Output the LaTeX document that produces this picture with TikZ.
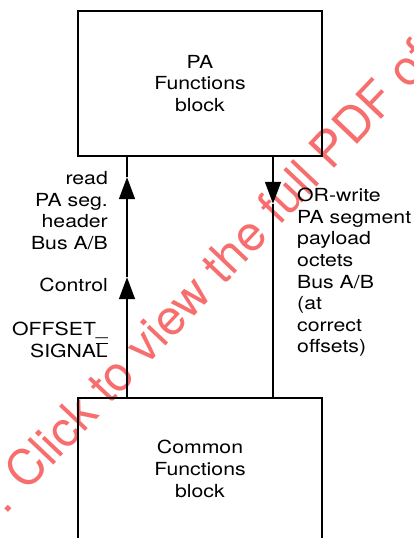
\documentclass[tikz,border=0pt]{standalone}
\usepackage{fontspec}
\setmainfont[FakeStretch=1.18]{TeX Gyre Heros}
\newfontfamily\wmfont{TeX Gyre Heros}
\usetikzlibrary{arrows.meta,positioning}
\definecolor{wmred}{HTML}{F76E6E}
\tikzset{
  blk/.style={draw,line width=1.6pt,minimum width=244pt,align=center,
              font=\fontsize{18}{21.6}\selectfont},
  lbl/.style={inner sep=0pt,font=\fontsize{18}{21.6}\selectfont},
  bus/.style={line width=1.6pt},
  tip/.style={line width=1.6pt,-{Triangle[length=22pt,width=16pt]}},
  wm/.style={text=wmred,font=\wmfont\fontsize{49}{49}\selectfont,rotate=46.5,inner sep=0pt},
}
\begin{document}
\begin{tikzpicture}[x=1pt,y=-1pt]
    \useasboundingbox (0,0) rectangle (414,538);
    % watermark, behind the drawing
    \node[wm,anchor=base west] (wmk) at (5,516) {. Click to view the full PDF of};
    % the two blocks
    \node[blk,minimum height=145pt] (pa) at (200,83.5) {PA\\Functions\\block};
    \node[blk,minimum height=142pt] (cf) at (200,469) {Common\\Functions\\block};
    \coordinate (lx) at (127,0);
    \coordinate (rx) at (273,0);
    % left bus, upwards
    \draw[tip] (cf.north -| lx) -- ++(0,-120) coordinate (c1);
    \draw[tip] (c1) -- ++(0,-100) coordinate (c2);
    \draw[bus] (c2) -- (pa.south -| lx);
    % right bus, downwards
    \draw[tip] (pa.south -| rx) -- ++(0,47) coordinate (c3);
    \draw[bus] (c3) -- (cf.north -| rx);
    % labels
    \node[lbl,align=right,anchor=east] (rd) at (108,210.5) {read\\PA seg.\\header\\Bus A/B};
    \node[lbl,align=right,anchor=east] (ctl) at (108,285) {Control};
    \node[lbl,align=right,anchor=east] (off) at (108,340) {OFFSET\_\\SIGNA$\overline{\mbox{L}}$};
    \node[lbl,align=left,anchor=west] (orw) at (297,272.5)
      {OR-write\\PA segment\\payload\\octets\\Bus A/B\\(at\\correct\\offsets)};
\end{tikzpicture}
\end{document}
